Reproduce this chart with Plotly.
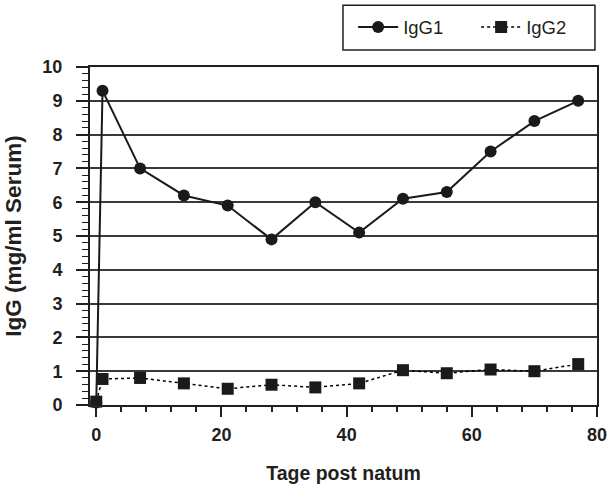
import plotly.graph_objects as go

days = [0, 1, 7, 14, 21, 28, 35, 42, 49, 56, 63, 70, 77]
igg1 = [0.07, 9.3, 7.0, 6.2, 5.9, 4.9, 6.0, 5.1, 6.1, 6.3, 7.5, 8.4, 9.0]
igg2 = [0.1, 0.77, 0.8, 0.64, 0.48, 0.6, 0.52, 0.64, 1.03, 0.94, 1.05, 1.0, 1.21]

fig = go.Figure()
fig.add_trace(go.Scatter(
    x=days, y=igg2, name="IgG2", mode="lines+markers",
    line=dict(color="black", width=1.5, dash="dot"),
    marker=dict(symbol="square", size=12, color="#1a1a1a"),
    cliponaxis=False,
))
fig.add_trace(go.Scatter(
    x=days, y=igg1, name="IgG1", mode="lines+markers",
    line=dict(color="#1a1a1a", width=2),
    marker=dict(symbol="circle", size=12, color="#1a1a1a"),
    cliponaxis=False,
))

font_family = "Liberation Sans, Arial, sans-serif"
ink = "#231f20"

fig.update_layout(
    width=608, height=484,
    margin=dict(l=90, r=11, t=67, b=79, autoexpand=False),
    plot_bgcolor="white", paper_bgcolor="white",
    font=dict(family=font_family, color=ink),
    showlegend=True,
    legend=dict(
        orientation="h", x=0.519, xanchor="left", y=1.117, yanchor="middle",
        borderwidth=0, bgcolor="rgba(0,0,0,0)",
        font=dict(size=18.5, family=font_family), traceorder="reversed",
        itemwidth=40, entrywidth=68, entrywidthmode="pixels",
    ),
    shapes=[dict(
        type="rect", xref="paper", yref="paper",
        x0=0.499, x1=0.996, y0=1.050, y1=1.183,
        line=dict(color=ink, width=1.5), fillcolor="rgba(0,0,0,0)",
    )],
    xaxis=dict(
        range=[-1, 80], tickvals=[0, 20, 40, 60, 80],
        showline=True, linecolor=ink, linewidth=2, mirror=True,
        ticks="outside", ticklen=10, tickwidth=2, tickcolor=ink,
        minor=dict(dtick=4, tick0=0, ticks="outside", ticklen=5, tickwidth=1.5, tickcolor=ink, showgrid=False),
        showgrid=False, zeroline=False, automargin=False,
        tickfont=dict(size=18, family=font_family, weight="bold"),
        ticklabelstandoff=2,
        title=dict(text="<b>Tage post natum</b>", font=dict(size=19.5, family=font_family), standoff=24),
    ),
    yaxis=dict(
        range=[0, 10], dtick=1,
        showline=True, linecolor=ink, linewidth=2, mirror=True,
        ticks="outside", ticklen=12, tickwidth=2, tickcolor=ink,
        minor=dict(dtick=0.2, tick0=0, ticks="outside", ticklen=6, tickwidth=1.2, tickcolor=ink, showgrid=False),
        showgrid=True, gridcolor="#3a3a3a", gridwidth=1.5, zeroline=False, automargin=False,
        tickfont=dict(size=18, family=font_family, weight="bold"),
        ticklabelstandoff=10,
        title=dict(text="<b>IgG (mg/ml Serum)</b>", font=dict(size=22.5, family=font_family), standoff=14),
    ),
)

fig.write_html(
    "out.html",
    config={"displayModeBar": False},
    post_script="document.body.style.margin='0';document.body.style.overflow='hidden';",
)
